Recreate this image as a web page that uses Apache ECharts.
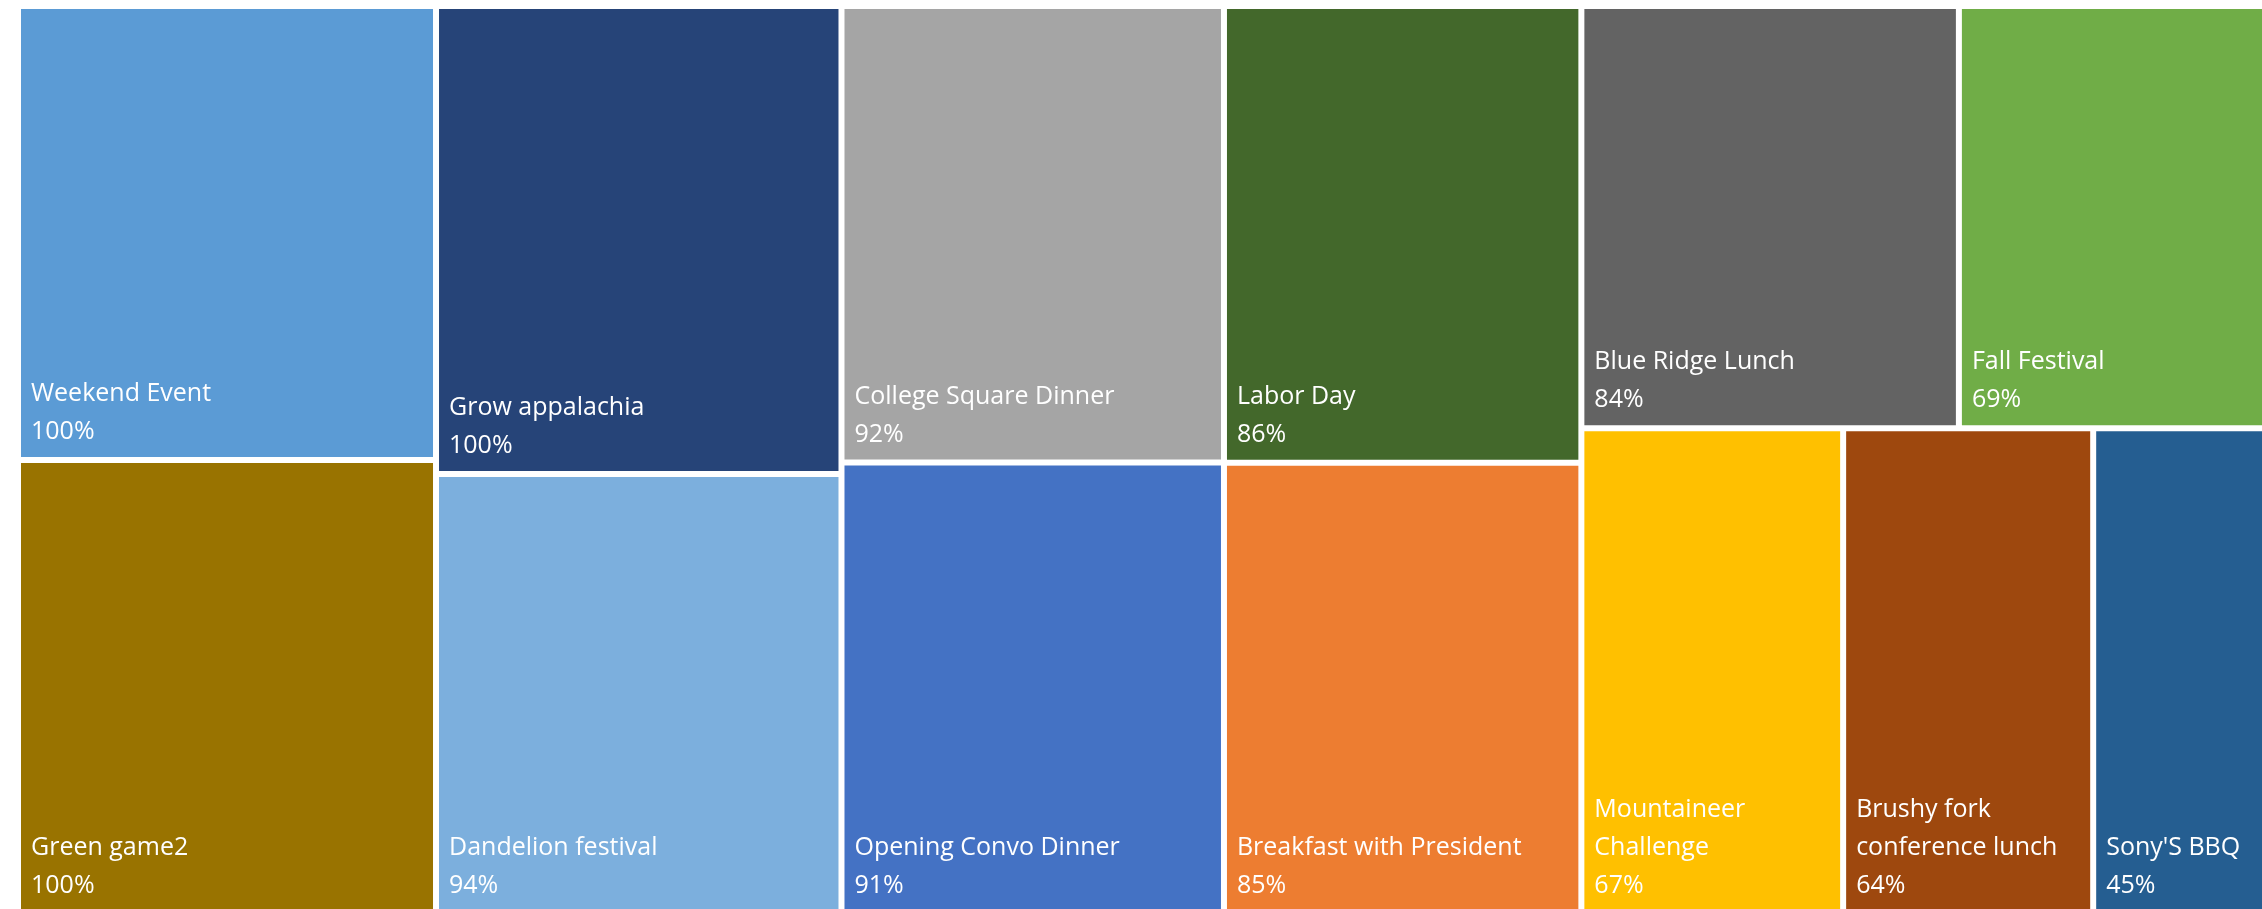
<!DOCTYPE html>
<html>
<head>
<meta charset="utf-8">
<script src="https://cdn.jsdelivr.net/npm/echarts@6/dist/echarts.min.js"></script>
<style>
html, body { margin: 0; padding: 0; background: #ffffff; }
#main { width: 2262px; height: 909px; }
</style>
</head>
<body>
<div id="main"></div>
<script>
const names = [
  'Weekend Event', 'Green game2', 'Grow appalachia', 'Dandelion festival',
  'College Square Dinner', 'Opening Convo Dinner', 'Labor Day', 'Breakfast with President',
  'Blue Ridge Lunch', 'Fall Festival', 'Mountaineer Challenge', 'Brushy fork conference lunch',
  "Sony'S BBQ"
];
const values = [100, 100, 100, 94, 92, 91, 86, 85, 84, 69, 67, 64, 45];
const colors = [
  '#5B9BD5', '#997300', '#264478', '#7CAFDD',
  '#A5A5A5', '#4472C4', '#43682B', '#ED7D31',
  '#636363', '#70AD47', '#FFC000', '#9E480E',
  '#255E91'
];

function leaf(i) {
  return { name: names[i], value: values[i], itemStyle: { color: colors[i] } };
}
function group(children) {
  return { name: '', value: children.reduce((s, c) => s + c.value, 0), children: children };
}

// top-level cells in order; the last three cells share one row (grouped for layout)
const data = [];
for (let i = 0; i < 10; i++) data.push(leaf(i));
data.push(group([group([leaf(10), leaf(11)]), leaf(12)]));

const chart = echarts.init(document.getElementById('main'), null, { renderer: 'canvas' });
chart.setOption({
  animation: false,
  tooltip: { show: false },
  series: [{
    type: 'treemap',
    left: 21,
    top: 9,
    width: 2245,
    height: 902,
    squareRatio: 1,
    sort: false,
    roam: false,
    nodeClick: false,
    breadcrumb: { show: false },
    itemStyle: { borderWidth: 0, gapWidth: 6, borderColor: '#ffffff' },
    upperLabel: { show: false },
    label: {
      show: true,
      position: 'insideBottomLeft',
      formatter: function (p) { return p.name + '\n' + p.value + '%'; },
      color: '#ffffff',
      fontFamily: 'Open Sans',
      fontSize: 25,
      lineHeight: 38,
      padding: [0, 0, 6, 10],
      overflow: 'break'
    },
    emphasis: { disabled: true },
    data: data
  }]
});
</script>
</body>
</html>
